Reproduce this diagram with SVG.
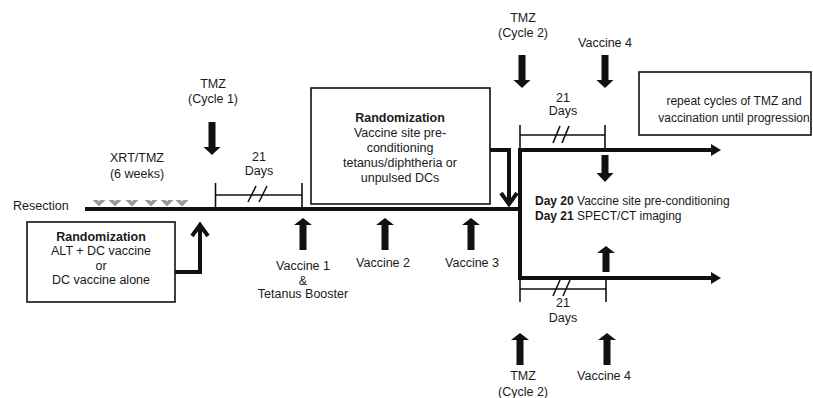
<svg xmlns="http://www.w3.org/2000/svg" width="813" height="398" viewBox="0 0 813 398">
<defs>
<style>
text{font-family:"Liberation Sans",Arial,sans-serif;font-size:12.5px;fill:#1a1a1a;text-anchor:middle}
.b{font-weight:bold}
.l{text-anchor:start}
.s{font-size:12px}
.box{fill:#fff;stroke:#111;stroke-width:1.6}
.thick{stroke:#111;stroke-width:4;fill:none}
.thin{stroke:#111;stroke-width:1.6;fill:none}
.blk{fill:#111}
.tri{fill:#999}
</style>
<path id="dn" d="M-3.5,0 H3.5 V25 H8.5 L0,33 L-8.5,25 H-3.5 Z"/>
<path id="up" d="M-3.5,32 H3.5 V7 H9 L0,0 L-9,7 H-3.5 Z"/>
<path id="dnS" d="M-3.5,0 H3.5 V18 H8.5 L0,27 L-8.5,18 H-3.5 Z"/>
<path id="upS" d="M-3.5,26 H3.5 V7 H9 L0,0 L-9,7 H-3.5 Z"/>
</defs>
<rect width="813" height="398" fill="#fff"/>

<g id="connectors">
<line class="thick" x1="85" y1="209" x2="521" y2="209"/>
<line class="thick" x1="520" y1="148" x2="520" y2="280"/>
<line class="thick" x1="518" y1="150" x2="712" y2="150"/>
<polygon class="blk" points="711,144 721,150 711,156"/>
<line class="thick" x1="518" y1="278" x2="712" y2="278"/>
<polygon class="blk" points="711,272 721,278 711,284"/>
<path class="thick" d="M175,272 H200 V226"/>
<path class="thick" d="M192,236 L200,225 L208,236"/>
<path class="thick" d="M490,150 H509 V203"/>
<path class="thick" d="M501,193 L509,204 L517,193"/>
</g>

<g id="resection"><text class="l" x="13" y="209.5">Resection</text></g>

<g id="xrt">
<text x="137" y="161.5">XRT/TMZ</text>
<text x="137" y="177.5">(6 weeks)</text>
<path class="tri" d="M92.5,200 H98 L99,202 L100,200 H105.5 L99,206.5 Z"/>
<path class="tri" d="M108.5,200 H114 L115,202 L116,200 H121.5 L115,206.5 Z"/>
<path class="tri" d="M125.5,200 H131 L132,202 L133,200 H138.5 L132,206.5 Z"/>
<path class="tri" d="M144.5,200 H150 L151,202 L152,200 H157.5 L151,206.5 Z"/>
<path class="tri" d="M160.5,200 H166 L167,202 L168,200 H173.5 L167,206.5 Z"/>
<path class="tri" d="M175.5,200 H181 L182,202 L183,200 H188.5 L182,206.5 Z"/>
</g>

<g id="box1">
<rect class="box" x="27" y="222" width="148" height="80"/>
<text class="b" x="101" y="240.5">Randomization</text>
<text x="101" y="255">ALT + DC vaccine</text>
<text x="101" y="269.5">or</text>
<text x="101" y="284">DC vaccine alone</text>
</g>

<g id="tmz1">
<text x="213" y="87.5">TMZ</text>
<text x="213" y="102.5">(Cycle 1)</text>
<use href="#dn" x="212" y="122" class="blk"/>
</g>

<g id="days1">
<line class="thin" x1="215.5" y1="183" x2="215.5" y2="207"/>
<line class="thin" x1="302" y1="183" x2="302" y2="207"/>
<line class="thin" x1="215.5" y1="195" x2="302" y2="195"/>
<line class="thin" x1="248" y1="202" x2="256" y2="186"/>
<line class="thin" x1="259" y1="202" x2="267" y2="186"/>
<text x="259" y="160.5">21</text>
<text x="259" y="174.5">Days</text>
</g>

<g id="box2">
<rect class="box" x="311" y="88" width="179" height="116"/>
<text class="b" x="400" y="121.5">Randomization</text>
<text x="400" y="137">Vaccine site pre-</text>
<text x="400" y="151.5">conditioning</text>
<text x="400" y="166.5">tetanus/diphtheria or</text>
<text x="400" y="181.5">unpulsed DCs</text>
</g>

<g id="vaccine1">
<use href="#up" x="303" y="218" class="blk"/>
<text x="303" y="269.5">Vaccine 1</text>
<text x="303" y="284.5">&amp;</text>
<text x="303" y="297.5">Tetanus Booster</text>
</g>
<g id="vaccine2">
<use href="#up" x="385" y="218" class="blk"/>
<text x="383" y="266.5">Vaccine 2</text>
</g>
<g id="vaccine3">
<use href="#up" x="471" y="218" class="blk"/>
<text x="472" y="266.5">Vaccine 3</text>
</g>

<g id="tmz2top">
<text x="523" y="21.5">TMZ</text>
<text x="523" y="36.5">(Cycle 2)</text>
<use href="#dn" x="522" y="55" class="blk"/>
</g>
<g id="vaccine4top">
<text x="605" y="46.5">Vaccine 4</text>
<use href="#dn" x="605" y="55" class="blk"/>
</g>

<g id="days2">
<line class="thin" x1="520" y1="125" x2="520" y2="148"/>
<line class="thin" x1="605" y1="125" x2="605" y2="150"/>
<line class="thin" x1="520" y1="135" x2="605" y2="135"/>
<line class="thin" x1="553" y1="143" x2="560" y2="126"/>
<line class="thin" x1="562" y1="143" x2="569" y2="126"/>
<text x="563" y="101.5">21</text>
<text x="563" y="114.5">Days</text>
</g>

<g id="repeat">
<rect class="box" x="639" y="72" width="172" height="63"/>
<text class="s" x="734" y="104.5">repeat cycles of TMZ and</text>
<text class="s" x="734" y="121.5">vaccination until progression</text>
</g>

<g id="day20">
<use href="#dnS" x="605" y="155" class="blk"/>
<text class="l s" x="535" y="204.5"><tspan class="b">Day 20</tspan> Vaccine site pre-conditioning</text>
<text class="l s" x="535" y="219.5"><tspan class="b">Day 21</tspan> SPECT/CT imaging</text>
</g>

<g id="lowerUp">
<use href="#upS" x="606" y="246" class="blk"/>
</g>

<g id="days3">
<line class="thin" x1="520" y1="278" x2="520" y2="302"/>
<line class="thin" x1="606" y1="278" x2="606" y2="302"/>
<line class="thin" x1="520" y1="289" x2="606" y2="289"/>
<line class="thin" x1="553" y1="296" x2="560" y2="280"/>
<line class="thin" x1="563" y1="296" x2="570" y2="280"/>
<text x="563" y="306.5">21</text>
<text x="563" y="321.5">Days</text>
</g>

<g id="tmz2bottom">
<use href="#up" x="520" y="333" class="blk"/>
<text x="523" y="379.5">TMZ</text>
<text x="523" y="395.5">(Cycle 2)</text>
</g>
<g id="vaccine4bottom">
<use href="#up" x="607" y="333" class="blk"/>
<text x="604" y="379.5">Vaccine 4</text>
</g>
</svg>
